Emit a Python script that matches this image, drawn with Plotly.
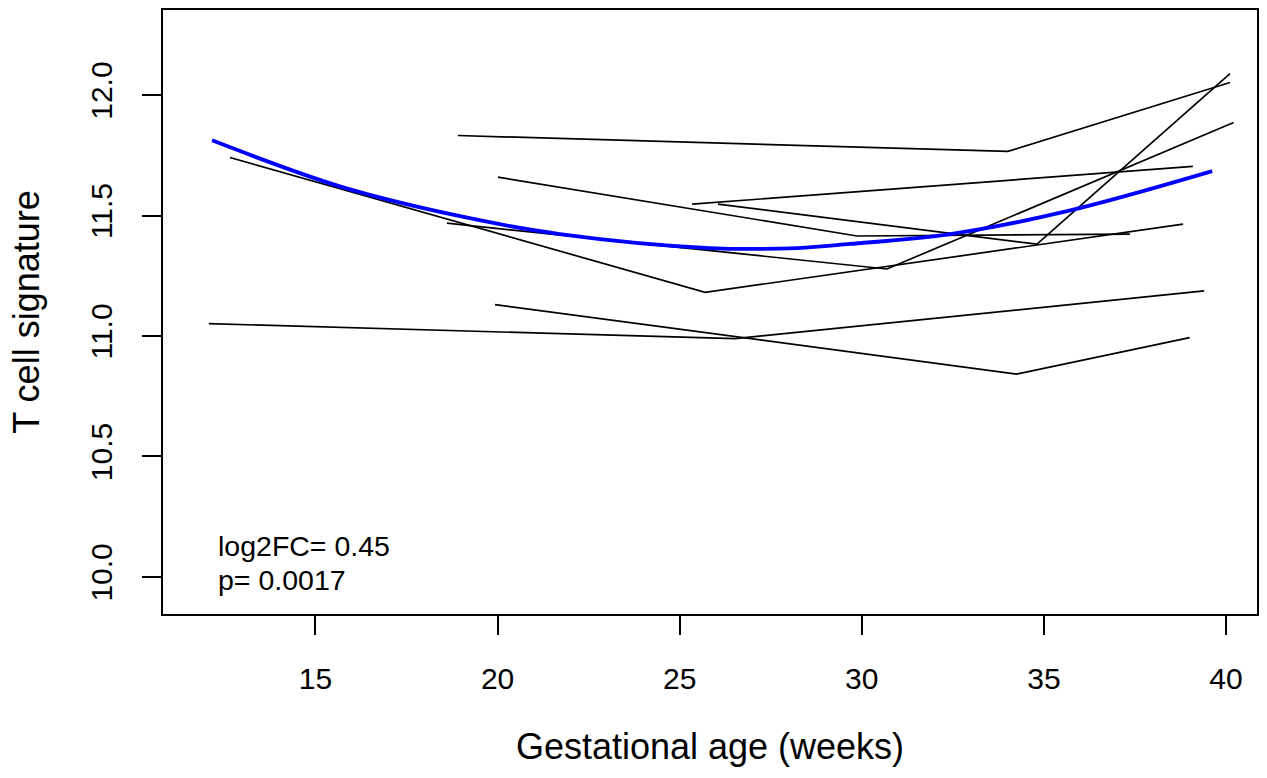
import plotly.graph_objects as go

# Subject trajectories (gestational age in weeks, T cell signature)
subj_A_x = [18.91, 34.01, 40.11]; subj_A_y = [11.832, 11.766, 12.052]
subj_B_x = [12.65, 25.70, 38.82]; subj_B_y = [11.741, 11.181, 11.464]
subj_C_x = [18.61, 30.69, 40.21]; subj_C_y = [11.468, 11.278, 11.886]
subj_D_x = [20.01, 29.87, 37.36]; subj_D_y = [11.659, 11.415, 11.423]
subj_E_x = [25.34, 39.09];        subj_E_y = [11.547, 11.704]
subj_F_x = [26.05, 34.81, 40.11]; subj_F_y = [11.547, 11.381, 12.089]
subj_G_x = [12.07, 26.52, 39.40]; subj_G_y = [11.051, 10.989, 11.187]
subj_H_x = [19.93, 34.25, 39.00]; subj_H_y = [11.130, 10.842, 10.993]

subjects = [
    (subj_A_x, subj_A_y), (subj_B_x, subj_B_y), (subj_C_x, subj_C_y),
    (subj_D_x, subj_D_y), (subj_E_x, subj_E_y), (subj_F_x, subj_F_y),
    (subj_G_x, subj_G_y), (subj_H_x, subj_H_y),
]

# Fitted curve
fit_x = [12.16, 15.67, 18.97, 21.71, 25.83, 28.22, 29.68, 32.43, 35.64, 39.62]
fit_y = [11.812, 11.621, 11.497, 11.423, 11.365, 11.365, 11.382, 11.423, 11.518, 11.684]

x_ticks = [15, 20, 25, 30, 35, 40]
y_ticks = [10.0, 10.5, 11.0, 11.5, 12.0]
y_tick_text = ["10.0", "10.5", "11.0", "11.5", "12.0"]

stat_lines = ["log2FC= 0.45", "p= 0.0017"]

FONT = "Liberation Sans, Arial, sans-serif"

fig = go.Figure()
for sx, sy in subjects:
    fig.add_trace(go.Scatter(x=sx, y=sy, mode="lines",
                             line=dict(color="black", width=1.7),
                             showlegend=False, hoverinfo="skip"))

fig.add_trace(go.Scatter(x=fit_x, y=fit_y, mode="lines",
                         line=dict(color="#0000FF", width=3.8, shape="spline", smoothing=1.0),
                         showlegend=False, hoverinfo="skip"))

axis_common = dict(
    showline=True, linecolor="black", linewidth=1.8, mirror=True,
    showgrid=False, zeroline=False,
    ticks="outside", ticklen=19, tickwidth=1.8, tickcolor="black",
    tickfont=dict(family=FONT, size=30, color="black"),
)

fig.update_layout(
    width=1267, height=778,
    margin=dict(l=163, r=10, t=8, b=164),
    paper_bgcolor="white", plot_bgcolor="white",
    font=dict(family=FONT, color="black"),
    xaxis=dict(range=[10.813, 40.851], tickvals=x_ticks,
               title=dict(text="Gestational age (weeks)",
                          font=dict(family=FONT, size=36, color="black"),
                          standoff=40),
               ticklabelstandoff=18,
               **axis_common),
    yaxis=dict(range=[9.846, 12.353], tickvals=y_ticks, ticktext=y_tick_text,
               tickangle=-90,
               title=dict(text="T cell signature",
                          font=dict(family=FONT, size=36, color="black"),
                          standoff=34),
               ticklabelstandoff=18,
               **axis_common),
)

fig.add_annotation(x=12.28, y=10.127, xref="x", yref="y", text=stat_lines[0],
                   showarrow=False, xanchor="left", yanchor="middle",
                   font=dict(family=FONT, size=28.5, color="black"))
fig.add_annotation(x=12.28, y=9.986, xref="x", yref="y", text=stat_lines[1],
                   showarrow=False, xanchor="left", yanchor="middle",
                   font=dict(family=FONT, size=28.5, color="black"))

fig.write_html("out.html")
